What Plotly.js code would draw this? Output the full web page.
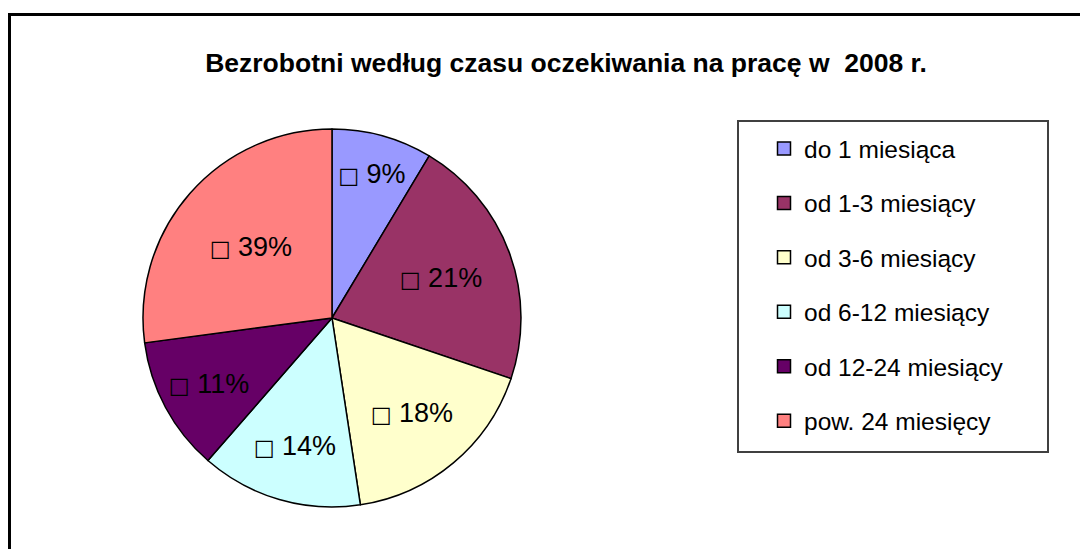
<!DOCTYPE html>
<html>
<head>
<meta charset="utf-8">
<script src="https://cdn.plot.ly/plotly-3.0.1.min.js"></script>
<style>html,body{margin:0;padding:0;background:#fff;}#chart{width:1080px;height:549px;}</style>
</head>
<body>
<div id="chart"></div>
<script>
// Categories (legend labels)
const categories = ["do 1 miesiąca", "od 1-3 miesiący", "od 3-6 miesiący", "od 6-12 miesiący", "od 12-24 miesiący", "pow. 24 miesięcy"];
// Slice sizes as drawn in the picture (share of the circle, %)
const sliceValues = [8.6, 21.6, 17.4, 13.8, 11.5, 27.1];
// Percent labels printed on the slices
const pctLabels = ["9%", "21%", "18%", "14%", "11%", "39%"];
// Slice colours
const colors = ["#9999FF", "#993366", "#FFFFCC", "#CCFFFF", "#660066", "#FF8080"];

const FONT = "Liberation Sans, Arial, sans-serif";

const pie = {
  type: "pie",
  labels: categories,
  values: sliceValues,
  text: pctLabels.map(p => '<b><span style="font-family:DejaVu Sans;font-size:22px">\u25A1</span></b> ' + p),
  textinfo: "text",
  textposition: "inside",
  insidetextorientation: "horizontal",
  textfont: {family: FONT, size: 27, color: "#000"},
  sort: false,
  direction: "clockwise",
  rotation: 0,
  marker: {colors: colors, line: {color: "#000", width: 1.5}},
  showlegend: false,
  hoverinfo: "label+percent",
  domain: {x: [0.1324, 0.4824], y: [0.0765, 0.765]}
};

const legendTraces = categories.map((c, i) => ({
  type: "scatter",
  mode: "markers",
  x: [null], y: [null],
  name: c,
  legendgroup: "g" + i,
  marker: {symbol: "square", size: 13, color: colors[i], line: {color: "#000", width: 1.5}},
  hoverinfo: "skip"
}));

const layout = {
  width: 1080, height: 549,
  margin: {l: 0, r: 0, t: 0, b: 0},
  paper_bgcolor: "#fff", plot_bgcolor: "rgba(0,0,0,0)",
  title: {
    text: "Bezrobotni według czasu oczekiwania na pracę w\u00a0 2008 r.",
    font: {family: FONT, size: 26.5, color: "#000", weight: "bold"},
    x: 566 / 1080, xanchor: "center", xref: "paper",
    y: 1 - 63 / 549, yanchor: "middle", yref: "container"
  },
  xaxis: {visible: false, domain: [0.6, 0.61]},
  yaxis: {visible: false, domain: [0.6, 0.61]},
  showlegend: true,
  legend: {
    x: 764 / 1080, xanchor: "left",
    y: 1 - 126 / 549, yanchor: "top",
    bgcolor: "rgba(0,0,0,0)", borderwidth: 0,
    font: {family: FONT, size: 24.5, color: "#000"},
    tracegroupgap: 19.6,
    traceorder: "grouped",
    itemclick: false, itemdoubleclick: false
  },
  shapes: [
    // chart area border
    {type: "rect", xref: "paper", yref: "paper", x0: 9.5 / 1080, x1: 1095 / 1080, y0: -0.05, y1: 1 - 14.5 / 549,
     line: {color: "#000", width: 3}, fillcolor: "rgba(0,0,0,0)", layer: "below"},
    // legend box
    {type: "rect", xref: "paper", yref: "paper", x0: 738 / 1080, x1: 1048 / 1080, y0: 1 - 452 / 549, y1: 1 - 121 / 549,
     line: {color: "#404040", width: 2}, fillcolor: "#fff", layer: "below"}
  ]
};

Plotly.newPlot("chart", [pie].concat(legendTraces), layout, {staticPlot: true, displayModeBar: false});
</script>
</body>
</html>
